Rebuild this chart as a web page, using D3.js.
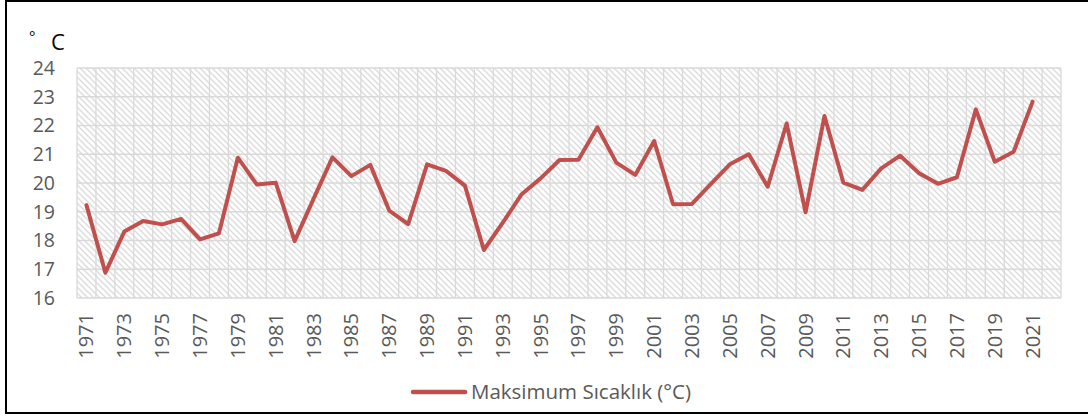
<!DOCTYPE html>
<html>
<head>
<meta charset="utf-8">
<script src="https://cdn.jsdelivr.net/npm/d3@7"></script>
<style>
  body { margin: 0; background: #fff; }
  svg { display: block; font-family: "Open Sans", sans-serif; }
</style>
</head>
<body>
<svg id="chart"></svg>
<script>
// years on the category axis (one empty slot is left after 2021, like the original)
var years = [1971, 1972, 1973, 1974, 1975, 1976, 1977, 1978, 1979, 1980,
    1981, 1982, 1983, 1984, 1985, 1986, 1987, 1988, 1989, 1990,
    1991, 1992, 1993, 1994, 1995, 1996, 1997, 1998, 1999, 2000,
    2001, 2002, 2003, 2004, 2005, 2006, 2007, 2008, 2009, 2010,
    2011, 2012, 2013, 2014, 2015, 2016, 2017, 2018, 2019, 2020, 2021];

// Maksimum Sıcaklık (°C)
var maxTemp = [19.23, 16.88, 18.31, 18.68, 18.56, 18.75, 18.04, 18.25, 20.88, 19.95,
    20.01, 17.98, 19.45, 20.89, 20.24, 20.63, 19.04, 18.57, 20.65, 20.42,
    19.91, 17.67, 18.62, 19.61, 20.16, 20.80, 20.81, 21.94, 20.71, 20.28,
    21.46, 19.26, 19.27, 19.97, 20.65, 21.00, 19.87, 22.07, 18.98, 22.33,
    20.01, 19.76, 20.51, 20.95, 20.34, 19.97, 20.20, 22.56, 20.74, 21.09, 22.83];

var yTicks = [16, 17, 18, 19, 20, 21, 22, 23, 24];
var seriesName = "Maksimum Sıcaklık (°C)";

var W = 1088, H = 418;
var plotL = 77, plotR = 1061, plotT = 68, plotB = 298;
var slots = years.length + 1;
var lineColor = "#c0504d";

var svg = d3.select("#chart").attr("width", W).attr("height", H);

// outer frame
svg.append("rect")
    .attr("x", 6).attr("y", 1)
    .attr("width", W + 10).attr("height", 412)
    .attr("fill", "none")
    .attr("stroke", "#000")
    .attr("stroke-width", 2);

var x = d3.scaleLinear().domain([-0.5, slots - 0.5]).range([plotL, plotR]);
var y = d3.scaleLinear().domain([16, 24]).range([plotB, plotT]);

// hatch fill for the plot area
var defs = svg.append("defs");
var pat = defs.append("pattern")
    .attr("id", "hatch")
    .attr("patternUnits", "userSpaceOnUse")
    .attr("width", 6).attr("height", 6);
pat.append("rect").attr("width", 6).attr("height", 6).attr("fill", "#fff");
pat.append("path")
    .attr("d", "M0,0L6,6M-3,3L3,9M3,-3L9,3")
    .attr("stroke", "#dcdcdc")
    .attr("stroke-width", 1.4);

svg.append("rect")
    .attr("x", plotL).attr("y", plotT)
    .attr("width", plotR - plotL).attr("height", plotB - plotT)
    .attr("fill", "url(#hatch)");

// gridlines
svg.append("g").selectAll("line")
    .data(d3.range(slots + 1))
    .enter().append("line")
    .attr("x1", d => x(d - 0.5)).attr("x2", d => x(d - 0.5))
    .attr("y1", plotT).attr("y2", plotB)
    .attr("stroke", "#d9d9d9").attr("stroke-width", 1.3);

svg.append("g").selectAll("line")
    .data(yTicks)
    .enter().append("line")
    .attr("x1", plotL).attr("x2", plotR)
    .attr("y1", d => y(d)).attr("y2", d => y(d))
    .attr("stroke", "#d9d9d9").attr("stroke-width", 1.3);

// y labels
svg.append("g").selectAll("text")
    .data(yTicks)
    .enter().append("text")
    .attr("x", 55).attr("y", d => y(d))
    .attr("dy", "0.35em")
    .attr("text-anchor", "end")
    .attr("font-size", 19.5)
    .attr("fill", "#595959")
    .text(d => d);

// x labels, every other year, rotated
svg.append("g").selectAll("text")
    .data(years.filter((d, i) => i % 2 === 0))
    .enter().append("text")
    .attr("transform", d => "translate(" + (x(years.indexOf(d)) + 7) + ",313) rotate(-90)")
    .attr("text-anchor", "end")
    .attr("font-size", 20)
    .attr("fill", "#595959")
    .text(d => d);

// unit label
svg.append("text").attr("x", 29).attr("y", 42)
    .attr("font-size", 15).attr("fill", "#000").text("°");
svg.append("text").attr("x", 51).attr("y", 50)
    .attr("font-size", 22).attr("fill", "#000").text("C");

// the series
var line = d3.line()
    .x((d, i) => x(i))
    .y(d => y(d));

svg.append("path")
    .datum(maxTemp)
    .attr("d", line)
    .attr("fill", "none")
    .attr("stroke", lineColor)
    .attr("stroke-width", 4)
    .attr("stroke-linejoin", "round")
    .attr("stroke-linecap", "round");

// legend
svg.append("line")
    .attr("x1", 413).attr("x2", 465)
    .attr("y1", 392).attr("y2", 392)
    .attr("stroke", lineColor)
    .attr("stroke-width", 4.5)
    .attr("stroke-linecap", "round");
svg.append("text")
    .attr("x", 471).attr("y", 392)
    .attr("dy", "0.35em")
    .attr("font-size", 20.5)
    .attr("fill", "#595959")
    .text(seriesName);
</script>
</body>
</html>
